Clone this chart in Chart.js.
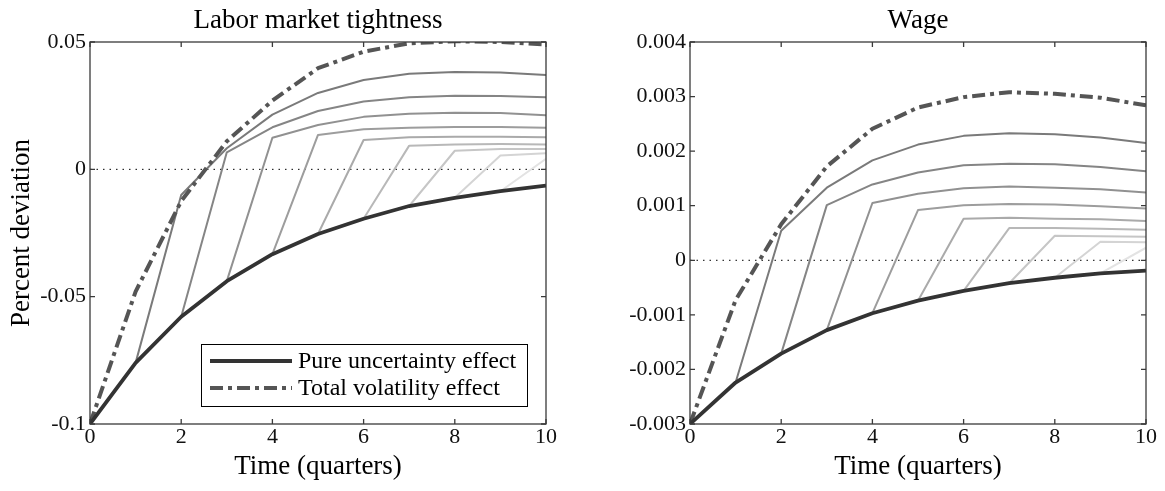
<!DOCTYPE html>
<html>
<head>
<meta charset="utf-8">
<script src="https://cdn.jsdelivr.net/npm/chart.js@4.4.1/dist/chart.umd.min.js"></script>
<style>
  body { margin: 0; background: #fff; }
  #wrap { position: relative; width: 1165px; height: 491px; }
  canvas { position: absolute; top: 0; }
</style>
</head>
<body>
<div id="wrap">
  <canvas id="laborChart" width="582" height="491" style="left:0"></canvas>
  <canvas id="wageChart" width="583" height="491" style="left:582px"></canvas>
</div>
<script>
// quarters on the x axis
const quarters = [0, 1, 2, 3, 4, 5, 6, 7, 8, 9, 10];
const xTicks = [0, 2, 4, 6, 8, 10];

// labor market tightness
const laborPure = [-0.1, -0.076, -0.0579, -0.0439, -0.0333, -0.0254, -0.0194, -0.0144, -0.0112, -0.0086, -0.0064];
const laborTotal = [-0.1, -0.048, -0.0125, 0.011, 0.027, 0.0397, 0.0462, 0.0495, 0.0503, 0.05, 0.049];
// each path starts on the pure line at quarter (index + 1)
const laborPaths = [
    [-0.076, -0.0101, 0.0083, 0.0215, 0.03, 0.0351, 0.0375, 0.0382, 0.038, 0.037],
    [-0.0579, 0.0067, 0.0165, 0.0229, 0.0266, 0.0283, 0.0289, 0.0288, 0.0283],
    [-0.0439, 0.0124, 0.0174, 0.0206, 0.0218, 0.0222, 0.0221, 0.0212],
    [-0.0333, 0.0135, 0.0157, 0.0163, 0.0166, 0.0166, 0.0163],
    [-0.0254, 0.0115, 0.0126, 0.0128, 0.0128, 0.0126],
    [-0.0194, 0.0093, 0.0098, 0.0099, 0.0098],
    [-0.0144, 0.0073, 0.008, 0.008],
    [-0.0112, 0.0054, 0.0063],
    [-0.0086, 0.0041]
];
const laborYTicks = [-0.1, -0.05, 0, 0.05];
const laborYLabels = ['-0.1', '-0.05', '0', '0.05'];

// wage
const wagePure = [-0.003, -0.00224, -0.00171, -0.00128, -0.00097, -0.00074, -0.00056, -0.00042, -0.00032, -0.00024, -0.00019];
const wageTotal = [-0.003, -0.00073, 0.00066, 0.00172, 0.00241, 0.0028, 0.00299, 0.00308, 0.00305, 0.00298, 0.00284];
const wagePaths = [
    [-0.00224, 0.00054, 0.00133, 0.00183, 0.00212, 0.00228, 0.00233, 0.00231, 0.00225, 0.00215],
    [-0.00171, 0.00101, 0.00139, 0.00161, 0.00174, 0.00177, 0.00176, 0.00171, 0.00163],
    [-0.00128, 0.00105, 0.00122, 0.00132, 0.00135, 0.00133, 0.0013, 0.00124],
    [-0.00097, 0.00092, 0.00101, 0.00103, 0.00102, 0.00099, 0.00095],
    [-0.00074, 0.00076, 0.00078, 0.00076, 0.00075, 0.00072],
    [-0.00056, 0.00059, 0.00059, 0.00058, 0.00056],
    [-0.00042, 0.00045, 0.00044, 0.00043],
    [-0.00032, 0.00034, 0.00033],
    [-0.00024, 0.00023]
];
const wageYTicks = [-0.003, -0.002, -0.001, 0, 0.001, 0.002, 0.003, 0.004];
const wageYLabels = ['-0.003', '-0.002', '-0.001', '0', '0.001', '0.002', '0.003', '0.004'];

const pathColors = ['#7a7a7a', '#858585', '#919191', '#9d9d9d', '#aaaaaa', '#b8b8b8', '#c6c6c6', '#d4d4d4', '#e3e3e3'];
const serif = "'Liberation Serif', 'Times New Roman', serif";

function points(values, start) {
    return values.map((v, i) => ({ x: quarters[start + i], y: v }));
}

function buildDatasets(pure, total, paths) {
    let sets = [];
    sets.push({ data: points(pure, 0), borderColor: '#333333', borderWidth: 3.8 });
    sets.push({ data: points(total, 0), borderColor: '#555555', borderWidth: 4, borderDash: [13, 5, 4, 5] });
    for (let i = 0; i < paths.length; i++) {
        sets.push({ data: points(paths[i], i + 1), borderColor: pathColors[i], borderWidth: 2 });
    }
    sets.push({
        data: [{ x: quarters[0], y: 0 }, { x: quarters[quarters.length - 1], y: 0 }],
        borderColor: '#000', borderWidth: 1, borderDash: [1.5, 5]
    });
    return sets;
}

// box round the plot with inward tick marks
const frameTicks = {
    id: 'frameTicks',
    afterDraw(chart) {
        const ctx = chart.ctx, a = chart.chartArea;
        const x = chart.scales.x, y = chart.scales.y;
        ctx.save();
        ctx.strokeStyle = '#3a3a3a';
        ctx.lineWidth = 1.3;
        ctx.strokeRect(a.left, a.top, a.right - a.left, a.bottom - a.top);
        ctx.beginPath();
        x.ticks.forEach(t => {
            const px = x.getPixelForValue(t.value);
            ctx.moveTo(px, a.bottom); ctx.lineTo(px, a.bottom - 5);
            ctx.moveTo(px, a.top); ctx.lineTo(px, a.top + 5);
        });
        y.ticks.forEach(t => {
            const py = y.getPixelForValue(t.value);
            ctx.moveTo(a.left, py); ctx.lineTo(a.left + 5, py);
            ctx.moveTo(a.right, py); ctx.lineTo(a.right - 5, py);
        });
        ctx.stroke();
        ctx.restore();
    }
};

// legend box inside the left plot
const boxLegend = {
    id: 'boxLegend',
    afterDraw(chart) {
        const ctx = chart.ctx, a = chart.chartArea;
        const left = a.right - 345, top = a.bottom - 80, w = 326, h = 62;
        ctx.save();
        ctx.fillStyle = '#fff';
        ctx.fillRect(left, top, w, h);
        ctx.strokeStyle = '#000';
        ctx.lineWidth = 1;
        ctx.strokeRect(left + 0.5, top + 0.5, w, h);
        const entries = [
            { label: 'Pure uncertainty effect', ds: chart.data.datasets[0] },
            { label: 'Total volatility effect', ds: chart.data.datasets[1] }
        ];
        entries.forEach((e, i) => {
            const cy = top + 17 + i * 27;
            ctx.beginPath();
            ctx.strokeStyle = e.ds.borderColor;
            ctx.lineWidth = e.ds.borderWidth;
            ctx.setLineDash(e.ds.borderDash || []);
            ctx.moveTo(left + 9, cy);
            ctx.lineTo(left + 91, cy);
            ctx.stroke();
            ctx.setLineDash([]);
            ctx.fillStyle = '#000';
            ctx.font = '24px ' + serif;
            ctx.textBaseline = 'middle';
            ctx.fillText(e.label, left + 97, cy + 1);
        });
        ctx.restore();
    }
};

function makeChart(id, title, pure, total, paths, yTicks, yLabels, opts) {
    const canvas = document.getElementById(id);
    const ctx = canvas.getContext('2d');
    return new Chart(ctx, {
        type: 'line',
        data: { datasets: buildDatasets(pure, total, paths) },
        options: {
            responsive: false,
            animation: false,
            devicePixelRatio: 1,
            layout: { padding: { left: 0, right: opts.padRight, top: 0, bottom: 0 } },
            elements: {
                point: { radius: 0, hoverRadius: 0 },
                line: { tension: 0, borderJoinStyle: 'round', fill: false }
            },
            plugins: {
                legend: { display: false },
                tooltip: { enabled: false },
                title: {
                    display: true,
                    text: title,
                    fullSize: false,
                    color: '#000',
                    font: { family: serif, size: 27, weight: 'normal' },
                    padding: { top: 5, bottom: 4.6 }
                }
            },
            scales: {
                x: {
                    type: 'linear',
                    min: 0,
                    max: 10,
                    afterFit(scale) { scale.height = 67; },
                    afterBuildTicks(scale) { scale.ticks = xTicks.map(v => ({ value: v })); },
                    grid: { display: false, drawTicks: false },
                    border: { display: false },
                    ticks: { color: '#111', padding: 0, maxRotation: 0, font: { family: serif, size: 22 } },
                    title: {
                        display: true,
                        text: 'Time (quarters)',
                        color: '#000',
                        font: { family: serif, size: 27 },
                        padding: { top: 0, bottom: 8 }
                    }
                },
                y: {
                    type: 'linear',
                    min: yTicks[0],
                    max: yTicks[yTicks.length - 1],
                    afterFit(scale) { scale.width = opts.axisWidth; },
                    afterBuildTicks(scale) { scale.ticks = yTicks.map(v => ({ value: v })); },
                    grid: { display: false, drawTicks: false },
                    border: { display: false },
                    ticks: {
                        color: '#111',
                        padding: 4,
                        font: { family: serif, size: 22 },
                        callback: (v, i) => yLabels[i]
                    },
                    title: {
                        display: opts.yTitle !== '',
                        text: opts.yTitle,
                        color: '#000',
                        font: { family: serif, size: 27 },
                        padding: { top: 6, bottom: 0 }
                    }
                }
            }
        },
        plugins: opts.legend ? [frameTicks, boxLegend] : [frameTicks]
    });
}

let laborChart = makeChart('laborChart', 'Labor market tightness', laborPure, laborTotal, laborPaths,
    laborYTicks, laborYLabels, { padRight: 36, axisWidth: 90, yTitle: 'Percent deviation', legend: true });

let wageChart = makeChart('wageChart', 'Wage', wagePure, wageTotal, wagePaths,
    wageYTicks, wageYLabels, { padRight: 19, axisWidth: 108, yTitle: '', legend: false });
</script>
</body>
</html>
